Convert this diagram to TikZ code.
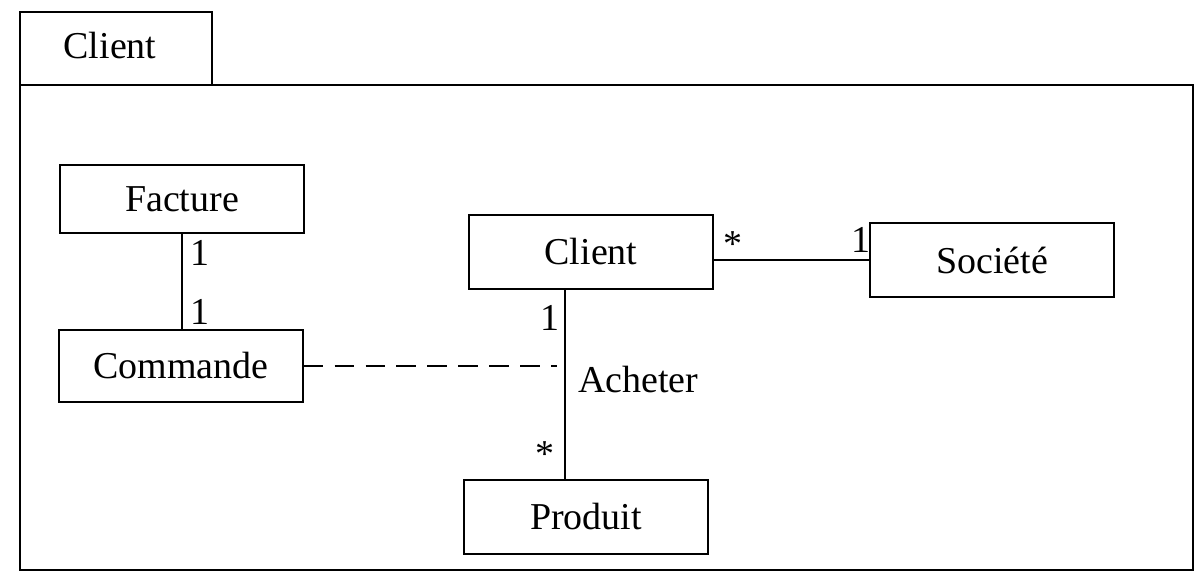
\documentclass[tikz,border=0pt]{standalone}
\usepackage{fontspec}
\setmainfont{Liberation Serif}
\begin{document}
\begin{tikzpicture}[x=0.025cm, y=-0.025cm, line width=0.9pt,
    every node/.style={font=\fontsize{27}{30}\selectfont},
    classe/.style={draw, minimum width=6.1cm, minimum height=1.85cm, inner sep=0pt},
    mult/.style={inner sep=1pt}]
    \useasboundingbox (0,0) rectangle (1198,585);

    % package frame
    \draw (20,85) rectangle (212,12);
    \node (pkg) at (110,46) {Client};
    \draw (20,85) rectangle (1193,570);

    % classes
    \node[classe, minimum height=1.7cm] (facture) at (182,199) {Facture};
    \node[classe, minimum height=1.8cm] (commande) at (181,366) {Commande};
    \node[classe] (client) at (591,252) {Client};
    \node[classe] (societe) at (992,260) {Société};
    \node[classe] (produit) at (586,517) {Produit};

    \coordinate (assoc) at ([shift={(-26,0)}]client.south);
    \coordinate (dashend) at (557,370);

    % associations
    \draw (facture.south) -- (facture.south |- commande.north);
    \node[mult] (m1) at (200,253) {1};
    \node[mult] (m2) at (200,312) {1};

    \draw (societe.west -| client.east) -- (societe.west);
    \node[mult] (m3) at (733,244) {*};
    \node[mult] (m4) at (861,240) {1};

    \draw (assoc) -- (assoc |- produit.north);
    \node[mult] (m5) at (550,318) {1};
    \node[mult] (m6) at (545,454) {*};
    \node[anchor=west] (acheter) at (573,380) {Acheter};

    \draw[dashed, dash pattern=on 14pt off 8pt] (commande.east) -- (commande.east -| dashend);
\end{tikzpicture}
\end{document}
